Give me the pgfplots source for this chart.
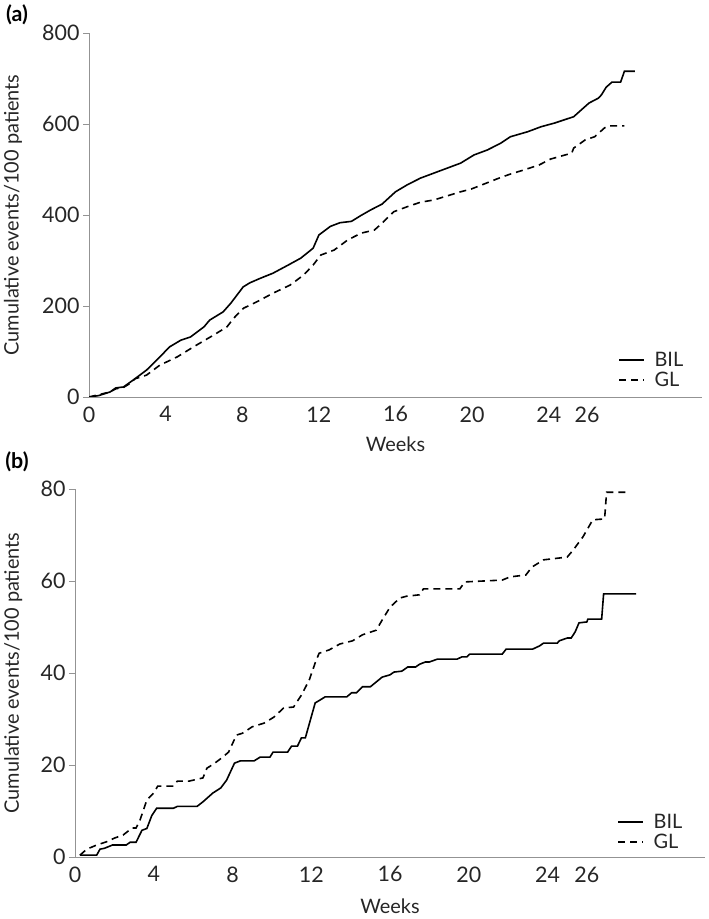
\documentclass[border=0pt]{standalone}
\usepackage{fontspec}
\setmainfont{Lato}
\usepackage{pgfplots}
\pgfplotsset{compat=1.18}
\newcommand{\fs}{\fontsize{21.5}{25}\selectfont}
\newcommand{\fl}{\fontsize{20}{24}\selectfont}
\pgfplotsset{
 mystyle/.style={
  scale only axis,
  axis x line=bottom, axis y line=left,
  axis line style={-, draw=gray!85, line width=0.8bp},
  xmin=0, xmax=32,
  xtick={0,4,8,12,16,20,24,26},
  x tick style={draw=none},
  y tick style={draw=gray!85, line width=0.8bp},
  tick align=outside,
  major tick length=6bp,
  ticklabel style={font=\fs, text=black!85},
  /pgf/number format/assume math mode=true,
  xlabel={Weeks},
  ylabel={Cumulative events/100 patients},
  label style={font=\fl, text=black!85},
  legend style={draw=none, fill=none, font=\fl, text=black!85, anchor=center,
    nodes={inner sep=0.5bp}, row sep=3bp, column sep=9bp},
  legend image code/.code={\draw[#1, line width=1.6bp] (0bp,0bp) -- (25bp,0bp);},
  legend cell align=left,
 },
 bil/.style={solid, black, line width=1.6bp},
 gl/.style={black, line width=1.6bp, dash pattern=on 7bp off 5bp},
}
\begin{document}
\begin{tikzpicture}[x=1bp,y=1bp]
\useasboundingbox (0,0) rectangle (709,919);
\node[font=\fs\bfseries] at (17,904) {(a)};
\node[font=\fs\bfseries] at (17,457) {(b)};
\begin{axis}[mystyle, at={(89bp,522bp)}, anchor=south west, width=613bp, height=364bp,
  ymin=0, ymax=800, ytick={0,200,400,600,800},
  ylabel style={at={(axis description cs:-0.124,0.5)}, anchor=center},
  xlabel style={at={(axis description cs:0.5,-0.129)}, anchor=center},
  legend style={at={(axis description cs:0.917,0.074)}}]
\addplot[bil] coordinates {
(0,0) (0.5,3) (1.1,11) (1.4,20) (1.8,22) (2.3,37) (3.0,59) (3.7,88) (4.2,110) (4.8,125)
(5.3,132) (6.0,154) (6.3,169) (7.0,187) (7.4,206) (8.05,242) (8.4,251) (8.95,261) (9.6,272)
(10.4,290) (11.05,305) (11.7,327) (12.0,356) (12.6,375) (13.1,383) (13.7,386) (14.2,399)
(14.7,411) (15.3,424) (16.0,451) (16.6,466) (17.3,481) (18.0,492) (18.7,503) (19.4,514)
(20.1,532) (20.8,543) (21.5,558) (22.0,572) (22.9,583) (23.6,594) (24.3,602) (25.3,616)
(26.1,646) (26.6,657) (26.75,664) (27.0,681) (27.3,692) (27.75,692) (27.95,716) (28.5,716)
};
\addlegendentry{BIL}
\addplot[gl] coordinates {
(0,0) (1.1,11) (1.4,18) (1.8,21) (2.15,30) (2.4,40) (3.0,48) (3.7,70) (4.6,88) (5.45,110)
(6.5,136) (7.2,154) (7.55,173) (8.06,195) (8.8,210) (9.6,228) (10.5,246) (11.2,268)
(11.7,290) (12.1,312) (12.8,323) (13.5,345) (14.2,360) (14.9,367) (15.3,382) (15.9,407)
(16.6,418) (17.3,428) (18.0,433) (18.7,442) (19.4,451) (19.95,457) (20.5,466) (21.4,481)
(22.0,490) (22.7,499) (23.5,510) (24.1,523) (25.2,536) (25.3,547) (25.9,565) (26.4,572)
(26.9,591) (27.1,596) (27.95,596)
};
\addlegendentry{GL}
\end{axis}
\begin{axis}[mystyle, at={(75bp,62bp)}, anchor=south west, width=630bp, height=368bp,
  ymin=0, ymax=80, ytick={0,20,40,60,80},
  ylabel style={at={(axis description cs:-0.098,0.5)}, anchor=center},
  xlabel style={at={(axis description cs:0.5,-0.133)}, anchor=center},
  legend style={at={(axis description cs:0.913,0.068)}}]
\addplot[bil] coordinates {
(0.25,0.4) (1.1,0.4) (1.27,1.7) (1.5,1.9) (1.9,2.6) (2.6,2.6) (2.8,3.2) (3.1,3.2) (3.4,5.8)
(3.65,6.2) (3.9,9.0) (4.15,10.6) (5.0,10.6) (5.2,11.0) (6.2,11.0) (6.5,12.0) (7.0,13.9)
(7.4,15.0) (7.7,16.7) (8.1,20.4) (8.4,20.9) (9.1,20.9) (9.4,21.7) (9.9,21.7) (10.06,22.8)
(10.8,22.8) (11.0,24.1) (11.3,24.1) (11.5,25.9) (11.7,25.9) (12.2,33.5) (12.4,34.0)
(12.7,34.8) (13.8,34.8) (14.05,35.7) (14.3,35.7) (14.6,37.0) (15.0,37.0) (15.6,39.1)
(16.0,39.6) (16.2,40.2) (16.6,40.4) (16.9,41.3) (17.3,41.3) (17.5,41.9) (17.8,42.4)
(18.0,42.4) (18.4,43.0) (19.4,43.0) (19.65,43.5) (19.9,43.5) (20.05,44.1) (21.7,44.1)
(21.9,45.2) (23.25,45.2) (23.6,45.9) (23.8,46.5) (24.5,46.5) (24.6,47.0) (25.0,47.6)
(25.2,47.6) (25.4,48.9) (25.6,50.9) (26.0,51.1) (26.05,51.7) (26.75,51.7) (26.85,57.2)
(28.5,57.2)
};
\addlegendentry{BIL}
\addplot[gl] coordinates {
(0.25,0.4) (0.6,1.7) (1.1,2.6) (1.6,3.3) (2.0,4.1) (2.45,4.8) (2.9,6.3) (3.1,6.3) (3.3,8.0)
(3.65,12.4) (4.0,13.9) (4.2,15.4) (5.0,15.4) (5.2,16.5) (5.8,16.5) (6.5,17.2) (6.7,19.3)
(7.1,20.4) (7.5,21.7) (7.8,22.8) (8.2,26.5) (8.5,26.9) (9.0,28.3) (9.6,29.1) (10.1,30.4)
(10.6,32.4) (11.1,32.6) (11.5,35.2) (11.9,38.5) (12.2,42.2) (12.4,44.3) (12.9,45.0)
(13.45,46.3) (14.1,47.0) (14.6,48.3) (15.3,49.3) (15.6,51.5) (16.0,54.3) (16.5,56.3)
(16.85,56.7) (17.5,57.0) (17.7,58.3) (19.55,58.3) (19.8,59.8) (21.7,60.2) (22.1,60.9)
(22.9,61.3) (23.2,63.0) (23.8,64.6) (25.0,65.2) (25.3,66.7) (25.8,69.6) (26.3,73.3)
(26.9,73.5) (27.0,79.3) (28.2,79.3)
};
\addlegendentry{GL}
\end{axis}
\end{tikzpicture}
\end{document}
